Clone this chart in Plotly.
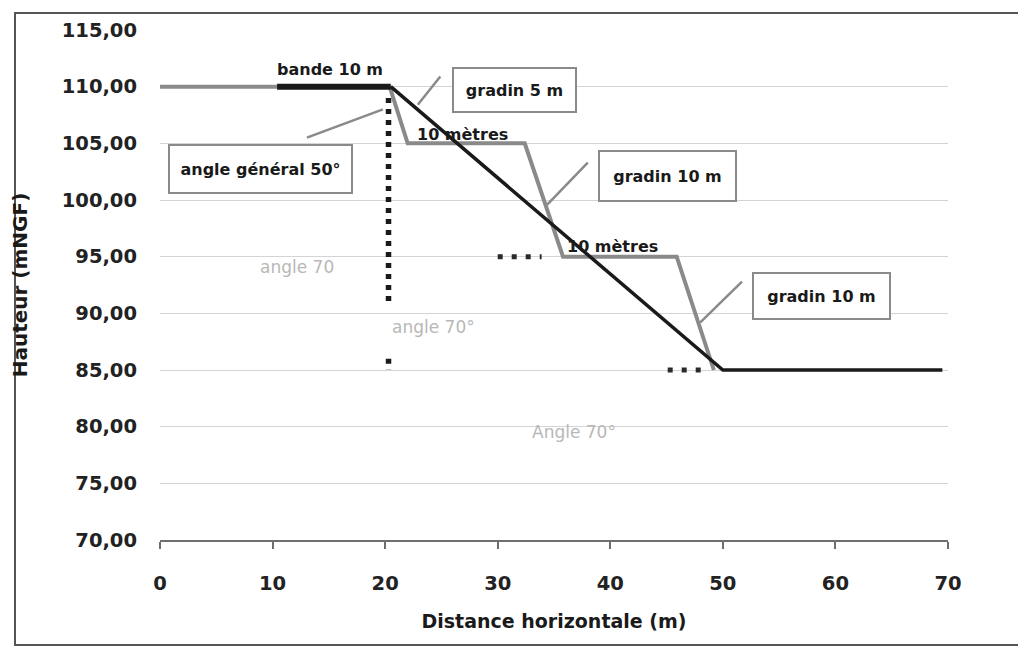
import plotly.graph_objects as go

# ---- data ----
terrain_x = [0, 10.4]
terrain_y = [110, 110]

bande_x = [10.4, 20.5]
bande_y = [110, 110]

general_x = [20.5, 50, 69.5]
general_y = [110, 85, 85]

gradin_x = [20.4, 22.0, 32.4, 35.8, 45.9, 49.2]
gradin_y = [110, 105, 105, 95, 95, 85]

vdot1_x = [20.3, 20.3]
vdot1_y = [109, 91]
vdot2_x = [20.3, 20.3]
vdot2_y = [86, 85]

hdot1_x = [30.0, 33.9]
hdot1_y = [95, 95]
hdot2_x = [45.1, 48.7]
hdot2_y = [85, 85]

y_ticks = [70, 75, 80, 85, 90, 95, 100, 105, 110, 115]
x_ticks = [0, 10, 20, 30, 40, 50, 60, 70]

# leader lines (x0, y0, x1, y1) in data units
leaders = [
    (22.9, 108.4, 24.9, 110.9),
    (13.05, 105.5, 19.8, 108.0),
    (38.0, 103.3, 34.4, 99.6),
    (51.7, 92.8, 48.0, 89.2),
]

FONT = "DejaVu Sans"
GREY = "#8a8a8a"

# the page body has an 8px margin, so the figure is sized to fill the rest
W, H = 1018, 640
L, R, T, B = 152, 78, 22, 108
PW, PH = W - L - R, H - T - B

fig = go.Figure()

fig.add_trace(go.Scatter(x=terrain_x, y=terrain_y, mode="lines",
                         line=dict(color="#8c8c8c", width=4), showlegend=False))
fig.add_trace(go.Scatter(x=gradin_x, y=gradin_y, mode="lines",
                         line=dict(color=GREY, width=4), showlegend=False))
fig.add_trace(go.Scatter(x=general_x, y=general_y, mode="lines",
                         line=dict(color="#1a1a1a", width=3.5), showlegend=False))
fig.add_trace(go.Scatter(x=bande_x, y=bande_y, mode="lines",
                         line=dict(color="#1a1a1a", width=6), showlegend=False))
for xs, ys in [(vdot1_x, vdot1_y), (vdot2_x, vdot2_y)]:
    fig.add_trace(go.Scatter(x=xs, y=ys, mode="lines",
                             line=dict(color="#1a1a1a", width=5.5, dash="5px,6px"),
                             showlegend=False))
for xs, ys in [(hdot1_x, hdot1_y), (hdot2_x, hdot2_y)]:
    fig.add_trace(go.Scatter(x=xs, y=ys, mode="lines",
                             line=dict(color="#2a2a2a", width=5, dash="5px,9px"),
                             showlegend=False))

shapes = []
for x0, y0, x1, y1 in leaders:
    shapes.append(dict(type="line", xref="x", yref="y", x0=x0, y0=y0, x1=x1, y1=y1,
                       line=dict(color=GREY, width=2.5)))
# outer frame of the chart area (figure pixel coords -> paper)
fx0, fx1, fy0, fy1 = 7, 1011, 5, 637
shapes.append(dict(type="rect", xref="paper", yref="paper",
                   x0=(fx0 - L) / PW, x1=(fx1 - L) / PW,
                   y0=(H - B - fy1) / PH, y1=(H - B - fy0) / PH,
                   line=dict(color="#555555", width=2)))

boxfont = dict(family=FONT, size=16, color="#1a1a1a", weight="bold")
faint = dict(family=FONT, size=17, color="#b8b8b8")
annotations = [
    dict(x=15.1, y=111.5, text="bande 10 m", showarrow=False, font=boxfont),
    dict(x=26.9, y=105.8, text="10 mètres", showarrow=False, font=boxfont),
    dict(x=40.2, y=95.9, text="10 mètres", showarrow=False, font=boxfont),
    dict(x=31.5, y=109.7, text="gradin 5 m", showarrow=False, font=boxfont,
         bordercolor=GREY, borderwidth=2, borderpad=4, bgcolor="white",
         width=113, height=34),
    dict(x=8.9, y=102.7, text="angle général 50°", showarrow=False, font=boxfont,
         bordercolor=GREY, borderwidth=2, borderpad=4, bgcolor="white",
         width=173, height=38),
    dict(x=45.1, y=102.1, text="gradin 10 m", showarrow=False, font=boxfont,
         bordercolor=GREY, borderwidth=2, borderpad=4, bgcolor="white",
         width=127, height=40),
    dict(x=58.8, y=91.5, text="gradin 10 m", showarrow=False, font=boxfont,
         bordercolor=GREY, borderwidth=2, borderpad=4, bgcolor="white",
         width=127, height=36),
    dict(x=12.2, y=94.1, text="angle 70", showarrow=False, font=faint),
    dict(x=24.3, y=88.8, text="angle 70°", showarrow=False, font=faint),
    dict(x=36.8, y=79.5, text="Angle 70°", showarrow=False, font=faint),
]

tickfont = dict(family=FONT, size=19.5, color="#222222", weight="bold")

fig.update_layout(
    width=W, height=H,
    margin=dict(l=L, r=R, t=T, b=B),
    paper_bgcolor="white", plot_bgcolor="white",
    separators=", ",
    showlegend=False,
    shapes=shapes,
    annotations=annotations,
    xaxis=dict(range=[0, 70], tickvals=x_ticks, showgrid=False, zeroline=False,
               showline=True, linecolor="#6e6e6e", linewidth=2,
               ticks="outside", ticklen=7, tickwidth=2, tickcolor="#6e6e6e",
               tickfont=tickfont, ticklabelstandoff=18,
               title=dict(text="Distance horizontale (m)", standoff=20,
                          font=dict(family=FONT, size=19, color="#1a1a1a", weight="bold"))),
    yaxis=dict(range=[70, 115], tickvals=y_ticks, tickformat=".2f",
               showgrid=True, gridcolor="#d4d4d4", gridwidth=1, zeroline=False,
               showline=False, ticks="", tickfont=tickfont, ticklabelstandoff=22,
               title=dict(text="Hauteur (mNGF)", standoff=28,
                          font=dict(family=FONT, size=20, color="#1a1a1a", weight="bold"))),
)

fig.write_html("out.html")
